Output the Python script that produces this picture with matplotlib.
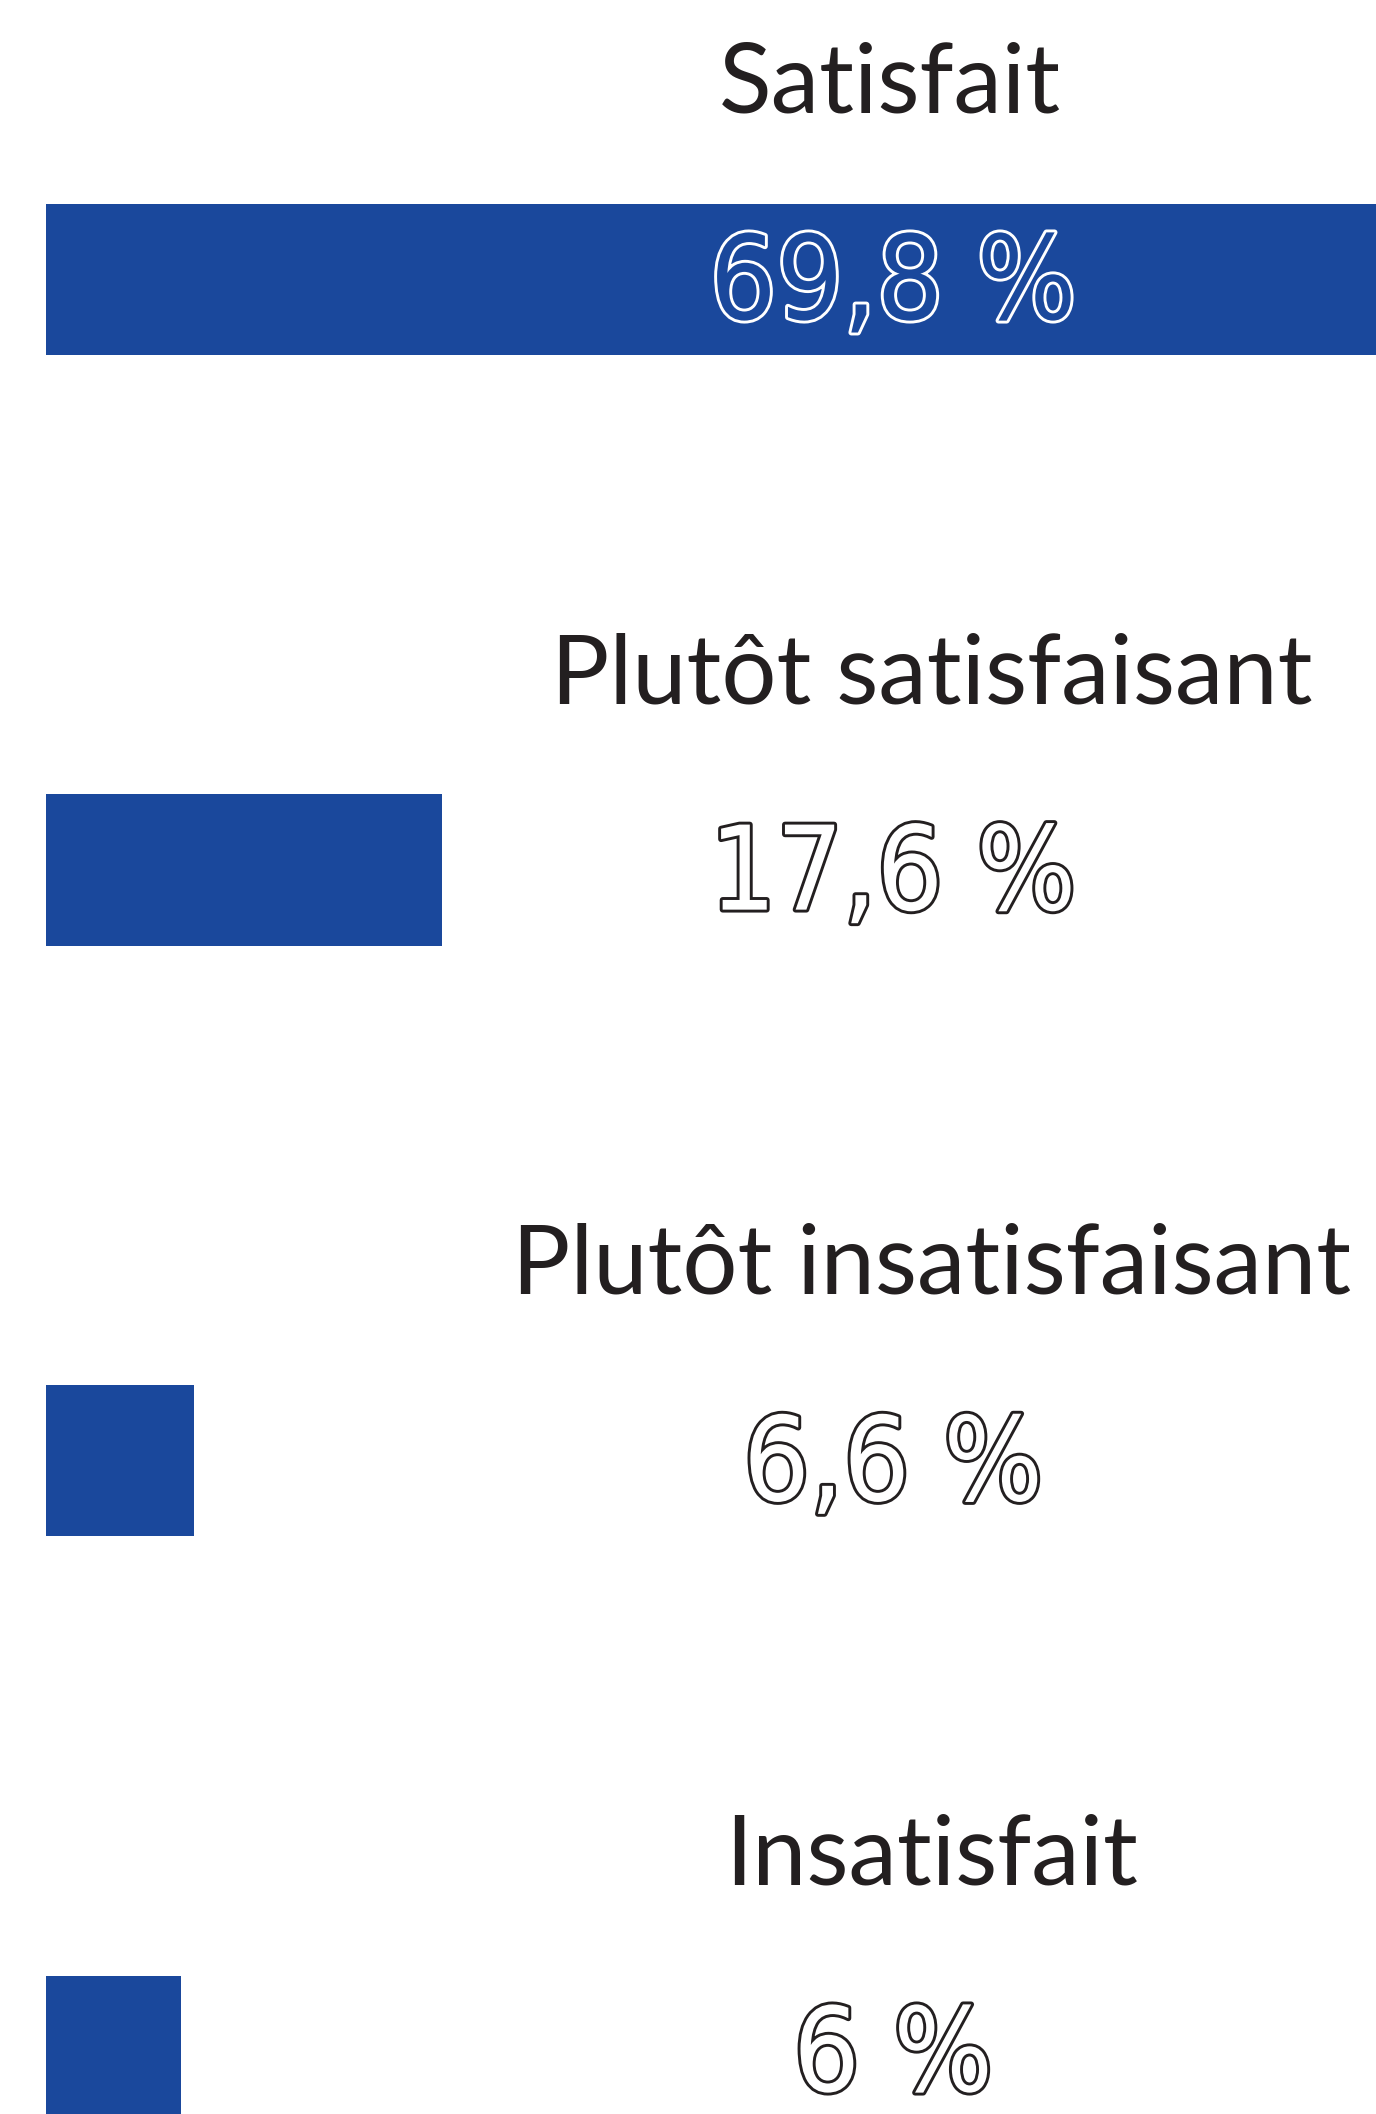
import matplotlib
matplotlib.use('Agg')
import matplotlib.pyplot as plt
import matplotlib.patheffects as pe

# survey answers, top to bottom
categories = ['Satisfait', 'Plutôt satisfaisant', 'Plutôt insatisfaisant', 'Insatisfait']
values = [69.8, 17.6, 6.6, 6.0]
value_labels = ['69,8 %', '17,6 %', '6,6 %', '6 %']

BLUE = '#1a489c'
DARK = '#231f20'

def draw_chart():
    fig = plt.figure(figsize=(13.76, 21.14), dpi=100)
    ax = fig.add_axes([0, 0, 1, 1])
    ax.set_axis_off()

    ypos = list(range(len(categories)))
    ax.barh(ypos, values, height=0.256, left=0, color=BLUE)

    # ~22.5 px per percent, bars start 46 px from the left edge
    px = 22.5
    ax.set_xlim(-46 / px, (1376 - 46) / px)
    ax.set_ylim(3.106, -0.473)

    tr = ax.get_yaxis_transform()
    label_x = [0.647, 0.677, 0.677, 0.677]
    for i, cat in enumerate(categories):
        ax.text(label_x[i], i - 0.328, cat, transform=tr, ha='center', va='center',
                fontsize=70, color=DARK, family=['Lato', 'DejaVu Sans'])

    # hollow (outlined) percentage labels
    for i, lab in enumerate(value_labels):
        inside = values[i] > 40
        fill = BLUE if inside else 'white'
        edge = 'white' if inside else DARK
        t = ax.text(0.649, i + 0.012, lab, transform=tr, ha='center', va='center',
                    fontsize=84, color=fill, family=['DejaVu Sans'],
                    fontstretch='condensed', fontweight='light')
        t.set_path_effects([pe.Stroke(linewidth=4.2, foreground=edge), pe.Normal()])

    fig.savefig('out.png', dpi=100, facecolor='white')

draw_chart()
